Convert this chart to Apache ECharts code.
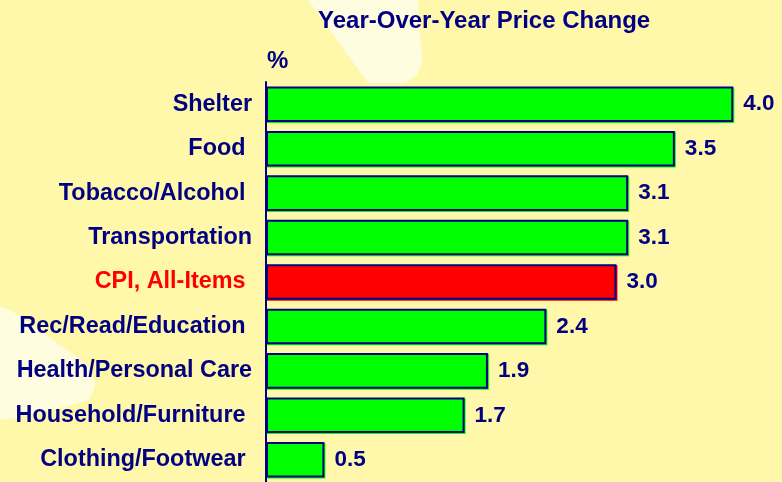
<!DOCTYPE html>
<html>
<head>
<meta charset="utf-8">
<script src="https://cdn.jsdelivr.net/npm/echarts@6/dist/echarts.min.js"></script>
<style>
  html, body { margin: 0; padding: 0; background: #FFF7A9; }
  #main { width: 782px; height: 482px; }
</style>
</head>
<body>
<div id="main"></div>
<script>
var categories = ['Shelter', 'Food ', 'Tobacco/Alcohol ', 'Transportation', 'CPI, All-Items ',
                  'Rec/Read/Education ', 'Health/Personal Care', 'Household/Furniture ', 'Clothing/Footwear '];
var values = [4.0, 3.5, 3.1, 3.1, 3.0, 2.4, 1.9, 1.7, 0.5];
var highlight = 'CPI, All-Items '; // the all-items bar is drawn red

var navy = '#000080';
var font = 'Liberation Sans, Arial, sans-serif';

var myChart = echarts.init(document.getElementById('main'));

var barData = [];
for (var i = 0; i < values.length; i++) {
  var isCpi = categories[i] == highlight;
  barData.push({
    value: values[i],
    itemStyle: {
      color: isCpi ? '#FF0000' : '#00FF00',
      shadowColor: isCpi ? '#FF0000' : '#00FF00'
    }
  });
}

var option = {
  backgroundColor: '#FFF7A9',
  graphic: [
    { // light wedge behind the title
      type: 'polygon', silent: true, z: -10,
      shape: { points: [[308, 0], [418, 0], [422, 62], [417, 75], [405, 83], [368, 83]] },
      style: { fill: '#FFFDDF' }
    },
    { // light blob at the lower left
      type: 'polygon', silent: true, z: -10,
      shape: { points: [[0, 308], [60, 345], [90, 368], [95, 385], [88, 400], [40, 412], [0, 418]], smooth: 0.2 },
      style: { fill: '#FFFDDF' }
    },
    {
      type: 'text', left: 318, top: 9,
      style: { text: 'Year-Over-Year Price Change', fill: navy, font: 'bold 24px ' + font }
    },
    {
      type: 'text', left: 267, top: 49,
      style: { text: '%', fill: navy, font: 'bold 24px ' + font }
    }
  ],
  grid: { left: 266, right: 2, top: 82, bottom: -3 },
  xAxis: {
    type: 'value',
    min: 0,
    max: 4.4,
    show: false
  },
  yAxis: {
    type: 'category',
    inverse: true,
    data: categories,
    axisLine: { show: true, lineStyle: { color: navy, width: 2 } },
    axisTick: { show: false },
    axisLabel: {
      margin: 14,
      fontSize: 23.4,
      fontWeight: 'bold',
      fontFamily: font,
      color: function (value) {
        return value == highlight ? '#FF0000' : navy;
      }
    }
  },
  series: [
    {
      type: 'bar',
      data: barData,
      barCategoryGap: '20%',
      itemStyle: {
        borderColor: navy,
        borderWidth: 2,
        shadowOffsetX: 1,
        shadowOffsetY: 1,
        shadowBlur: 0
      },
      label: {
        show: true,
        position: 'right',
        distance: 10,
        color: navy,
        fontSize: 22.5,
        fontWeight: 'bold',
        fontFamily: font,
        formatter: function (p) { return p.value.toFixed(1); }
      },
      emphasis: { disabled: true },
      animation: false
    }
  ]
};
myChart.setOption(option);
</script>
</body>
</html>
